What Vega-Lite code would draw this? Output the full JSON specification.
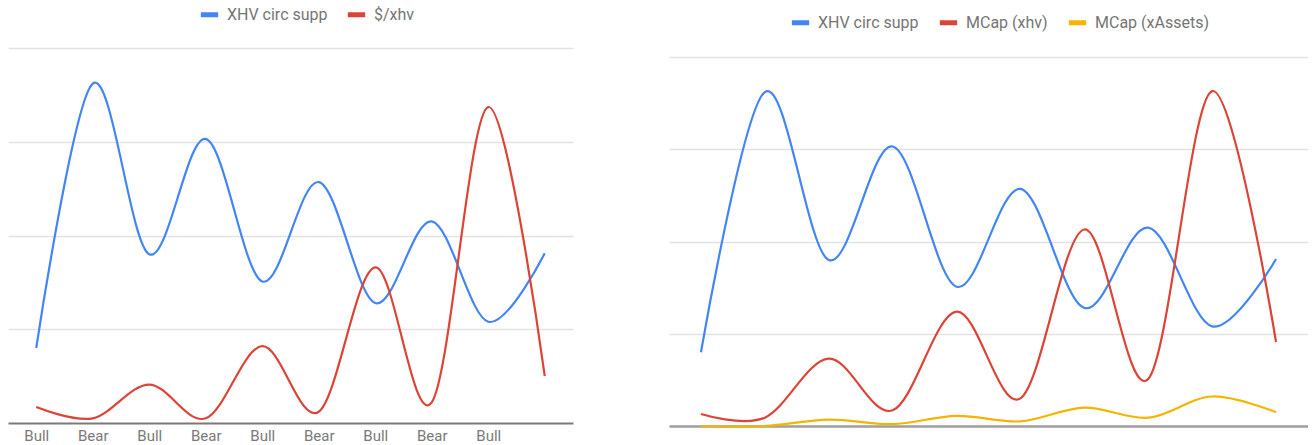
{
  "$schema": "https://vega.github.io/schema/vega-lite/v6.json",
  "background": "white",
  "padding": {"left": 8, "top": 3, "right": 0, "bottom": 0},
  "config": {
    "view": {"stroke": null},
    "font": "Roboto",
    "axisY": {"domain": false, "ticks": false, "labels": false, "grid": true, "gridColor": "#e2e2e2", "gridWidth": 1.3, "title": null},
    "axisX": {"grid": false, "ticks": false, "title": null, "labelAngle": 0, "labelFont": "Roboto", "labelFontSize": 15, "labelColor": "#7a7a7a", "labelPadding": 5, "domainWidth": 2},
    "legend": {"orient": "none", "direction": "horizontal", "title": null, "symbolType": "stroke", "symbolSize": 300, "symbolStrokeWidth": 5, "labelFont": "Roboto", "labelFontSize": 16, "labelColor": "#757575", "labelOffset": 6, "columnPadding": 9}
  },
  "datasets": {
    "left": [
      {"i": 1, "series": "XHV circ supp", "value": 0.80},
      {"i": 2, "series": "XHV circ supp", "value": 3.62},
      {"i": 3, "series": "XHV circ supp", "value": 1.80},
      {"i": 4, "series": "XHV circ supp", "value": 3.03},
      {"i": 5, "series": "XHV circ supp", "value": 1.51},
      {"i": 6, "series": "XHV circ supp", "value": 2.57},
      {"i": 7, "series": "XHV circ supp", "value": 1.28},
      {"i": 8, "series": "XHV circ supp", "value": 2.15},
      {"i": 9, "series": "XHV circ supp", "value": 1.08},
      {"i": 10, "series": "XHV circ supp", "value": 1.81},
      {"i": 1, "series": "$/xhv", "value": 0.17},
      {"i": 2, "series": "$/xhv", "value": 0.05},
      {"i": 3, "series": "$/xhv", "value": 0.41},
      {"i": 4, "series": "$/xhv", "value": 0.05},
      {"i": 5, "series": "$/xhv", "value": 0.82},
      {"i": 6, "series": "$/xhv", "value": 0.12},
      {"i": 7, "series": "$/xhv", "value": 1.66},
      {"i": 8, "series": "$/xhv", "value": 0.22},
      {"i": 9, "series": "$/xhv", "value": 3.37},
      {"i": 10, "series": "$/xhv", "value": 0.50}
    ],
    "right": [
      {"i": 1, "series": "XHV circ supp", "value": 0.80},
      {"i": 2, "series": "XHV circ supp", "value": 3.62},
      {"i": 3, "series": "XHV circ supp", "value": 1.80},
      {"i": 4, "series": "XHV circ supp", "value": 3.03},
      {"i": 5, "series": "XHV circ supp", "value": 1.51},
      {"i": 6, "series": "XHV circ supp", "value": 2.57},
      {"i": 7, "series": "XHV circ supp", "value": 1.28},
      {"i": 8, "series": "XHV circ supp", "value": 2.15},
      {"i": 9, "series": "XHV circ supp", "value": 1.08},
      {"i": 10, "series": "XHV circ supp", "value": 1.81},
      {"i": 1, "series": "MCap (xhv)", "value": 0.13},
      {"i": 2, "series": "MCap (xhv)", "value": 0.09},
      {"i": 3, "series": "MCap (xhv)", "value": 0.73},
      {"i": 4, "series": "MCap (xhv)", "value": 0.17},
      {"i": 5, "series": "MCap (xhv)", "value": 1.24},
      {"i": 6, "series": "MCap (xhv)", "value": 0.30},
      {"i": 7, "series": "MCap (xhv)", "value": 2.13},
      {"i": 8, "series": "MCap (xhv)", "value": 0.51},
      {"i": 9, "series": "MCap (xhv)", "value": 3.63},
      {"i": 10, "series": "MCap (xhv)", "value": 0.91},
      {"i": 1, "series": "MCap (xAssets)", "value": 0.0},
      {"i": 2, "series": "MCap (xAssets)", "value": 0.0},
      {"i": 3, "series": "MCap (xAssets)", "value": 0.07},
      {"i": 4, "series": "MCap (xAssets)", "value": 0.02},
      {"i": 5, "series": "MCap (xAssets)", "value": 0.11},
      {"i": 6, "series": "MCap (xAssets)", "value": 0.05},
      {"i": 7, "series": "MCap (xAssets)", "value": 0.20},
      {"i": 8, "series": "MCap (xAssets)", "value": 0.09},
      {"i": 9, "series": "MCap (xAssets)", "value": 0.32},
      {"i": 10, "series": "MCap (xAssets)", "value": 0.15}
    ]
  },
  "hconcat": [
    {
      "width": 565,
      "height": 375,
      "data": {"name": "left"},
      "mark": {"type": "line", "interpolate": "cardinal", "strokeWidth": 2.2},
      "encoding": {
        "x": {"field": "i", "type": "ordinal", "sort": null, "scale": {"type": "point", "padding": 0.5},
          "axis": {"domainColor": "#7a7a7a", "labelExpr": "['Bull','Bear','Bull','Bear','Bull','Bear','Bull','Bear','Bull',''][datum.value-1]"}},
        "y": {"field": "value", "type": "quantitative", "scale": {"domain": [0, 4], "nice": false, "zero": true}, "axis": {"values": [1, 2, 3, 4]}},
        "color": {"field": "series", "type": "nominal", "sort": null,
          "scale": {"domain": ["XHV circ supp", "$/xhv"], "range": ["#4285F4", "#DB4437"]},
          "legend": {"legendX": 190, "legendY": -45}}
      }
    },
    {
      "width": 639,
      "height": 378,
      "data": {"name": "right"},
      "mark": {"type": "line", "interpolate": "cardinal", "strokeWidth": 2.2},
      "encoding": {
        "x": {"field": "i", "type": "ordinal", "sort": null, "scale": {"type": "point", "padding": 0.5},
          "axis": {"domainColor": "#9e9e9e", "domainWidth": 2.5, "labels": false}},
        "y": {"field": "value", "type": "quantitative", "scale": {"domain": [0, 4.0976], "nice": false, "zero": true}, "axis": {"values": [1, 2, 3, 4]}},
        "color": {"field": "series", "type": "nominal", "sort": null,
          "scale": {"domain": ["XHV circ supp", "MCap (xhv)", "MCap (xAssets)"], "range": ["#4285F4", "#DB4437", "#F4B400"]},
          "legend": {"legendX": 120, "legendY": -37, "columnPadding": 10}}
      }
    }
  ],
  "spacing": 96,
  "bounds": "flush",
  "resolve": {"scale": {"color": "independent", "x": "independent", "y": "independent"}, "legend": {"color": "independent"}}
}
